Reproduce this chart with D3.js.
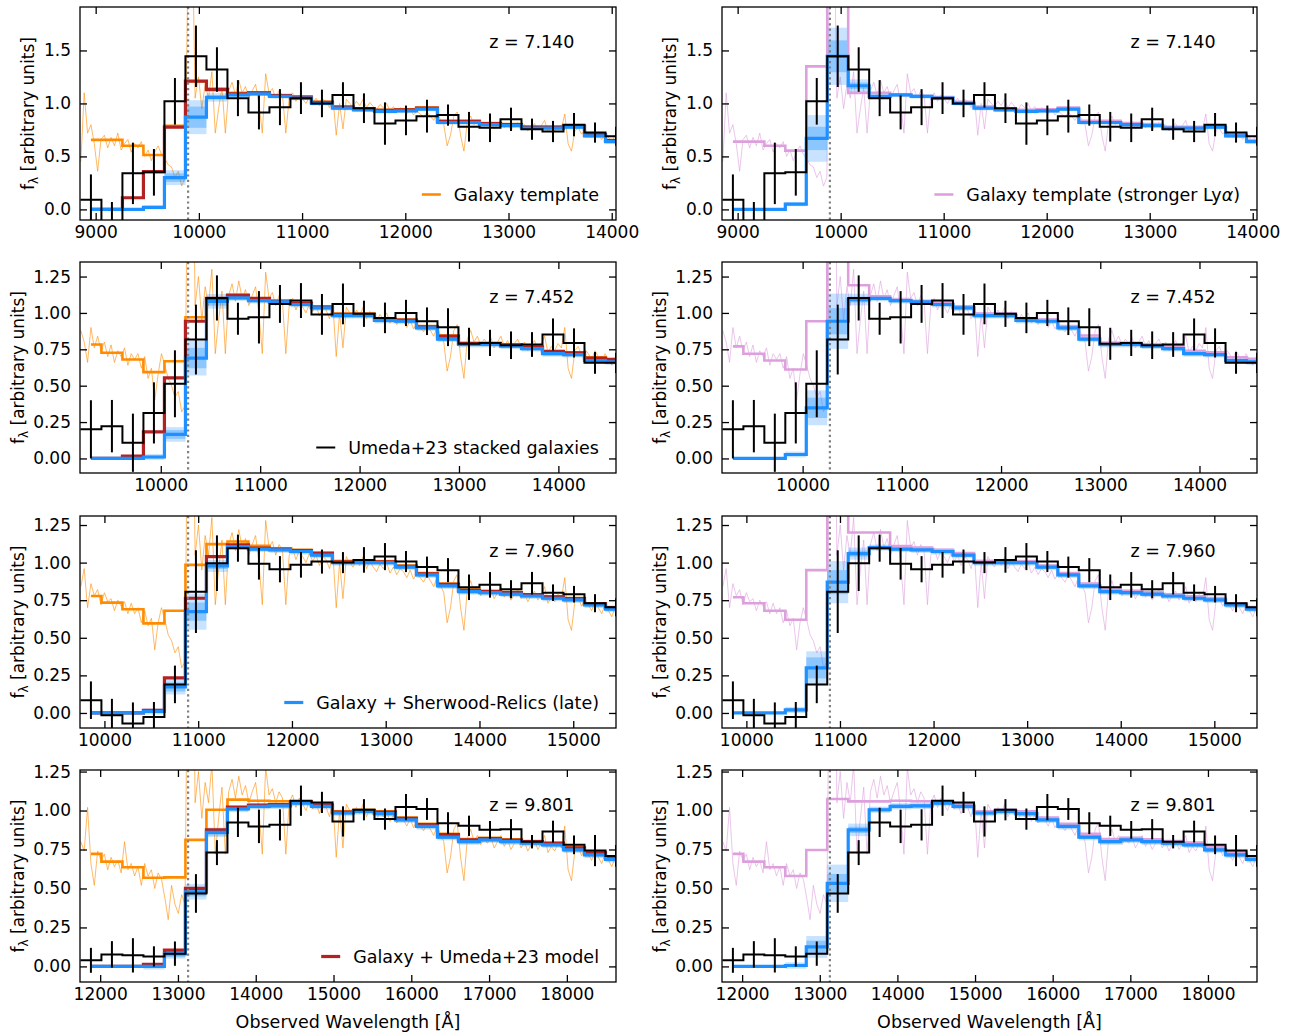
<!DOCTYPE html>
<html>
<head>
<meta charset="utf-8">
<script src="https://cdn.jsdelivr.net/npm/d3@7"></script>
<style>
  body { margin: 0; background: #fff; }
  text { font-family: "DejaVu Sans", sans-serif; }
</style>
</head>
<body>
<svg id="fig" width="1292" height="1036"></svg>
<script>
// ---------- data ----------
const redshifts = [7.140, 7.452, 7.960, 9.801];
const lyaRest = 1215.67;
const restLimits = [1087, 1725];          // rest-frame window shown in every panel
const binWidthRest = 25;
const binCentersRest = [1100, 1125, 1150, 1175, 1200, 1225, 1250, 1275, 1300, 1325, 1350, 1375, 1400,
  1425, 1450, 1475, 1500, 1525, 1550, 1575, 1600, 1625, 1650, 1675, 1700, 1725];

const yLimits = [[-0.1, 1.91], [-0.1, 1.35], [-0.1, 1.31], [-0.1, 1.26]];
const xTicks = [
  [9000, 10000, 11000, 12000, 13000, 14000],
  [10000, 11000, 12000, 13000, 14000],
  [10000, 11000, 12000, 13000, 14000, 15000],
  [12000, 13000, 14000, 15000, 16000, 17000, 18000]
];
const yTicks = [
  [0, 0.5, 1.0, 1.5],
  [0, 0.25, 0.5, 0.75, 1.0, 1.25],
  [0, 0.25, 0.5, 0.75, 1.0, 1.25],
  [0, 0.25, 0.5, 0.75, 1.0, 1.25]
];

// Umeda+23 stacked spectra (binned) and 1-sigma errors
const stackFlux = [
  [0.09, -0.17, 0.34, 0.35, 1.02, 1.445, 1.32, 1.05, 0.915, 0.965, 1.05, 1.0, 1.08, 0.955, 0.81, 0.84, 0.88, 0.89, 0.78, 0.77, 0.85, 0.757, 0.735, 0.80, 0.725, 0.69],
  [0.2, 0.222, 0.108, 0.313, 0.513, 0.817, 1.103, 0.96, 0.97, 1.062, 1.085, 0.99, 1.062, 0.994, 0.966, 1.0, 0.943, 0.902, 0.788, 0.794, 0.778, 0.783, 0.852, 0.794, 0.657, 0.657],
  [0.085, -0.016, -0.07, -0.027, 0.19, 0.807, 0.996, 1.096, 0.992, 0.956, 0.985, 1.007, 1.0, 1.018, 1.04, 1.007, 0.97, 0.95, 0.836, 0.852, 0.823, 0.863, 0.8, 0.79, 0.73, 0.703],
  [0.039, 0.077, 0.071, 0.064, 0.082, 0.468, 0.73, 0.924, 0.898, 0.908, 1.063, 1.052, 0.93, 1.005, 0.945, 1.022, 1.01, 0.919, 0.902, 0.876, 0.88, 0.8, 0.865, 0.78, 0.743, 0.709]
];
const stackErr = [
  [0.24, 0.24, 0.29, 0.22, 0.22, 0.29, 0.21, 0.17, 0.16, 0.17, 0.15, 0.13, 0.12, 0.14, 0.2, 0.14, 0.155, 0.1, 0.14, 0.135, 0.11, 0.1, 0.1, 0.11, 0.095, 0.09],
  [0.2, 0.18, 0.2, 0.21, 0.23, 0.24, 0.155, 0.11, 0.18, 0.13, 0.12, 0.14, 0.14, 0.09, 0.105, 0.09, 0.095, 0.13, 0.11, 0.09, 0.095, 0.085, 0.11, 0.1, 0.075, 0.07],
  [0.125, 0.11, 0.14, 0.1, 0.125, 0.275, 0.185, 0.09, 0.105, 0.087, 0.085, 0.08, 0.07, 0.085, 0.09, 0.07, 0.07, 0.08, 0.085, 0.085, 0.06, 0.075, 0.055, 0.055, 0.06, 0.06],
  [0.08, 0.085, 0.11, 0.065, 0.078, 0.124, 0.08, 0.094, 0.107, 0.1, 0.097, 0.068, 0.097, 0.068, 0.068, 0.084, 0.07, 0.07, 0.065, 0.057, 0.065, 0.043, 0.07, 0.06, 0.1, 0.07]
];

// Galaxy template, binned (orange) and with stronger Ly-alpha (pink)
const templateBinned = [
  [0.656, 0.656, 0.6, 0.514, 0.79, 1.21, 1.14, 1.1, 1.105, 1.08, 1.065, 1.015, 0.97, 0.955, 0.94, 0.945, 0.96, 0.835, 0.835, 0.815, 0.805, 0.78, 0.78, 0.79, 0.708, 0.655],
  [0.783, 0.726, 0.68, 0.593, 0.668, 0.97, 1.1, 1.126, 1.1, 1.085, 1.07, 1.045, 0.995, 0.995, 0.96, 0.955, 0.91, 0.845, 0.795, 0.795, 0.785, 0.77, 0.74, 0.73, 0.695, 0.685],
  [0.778, 0.734, 0.69, 0.596, 0.68, 0.985, 1.123, 1.14, 1.112, 1.096, 1.085, 1.063, 1.01, 1.01, 1.008, 0.98, 0.93, 0.86, 0.82, 0.812, 0.805, 0.79, 0.776, 0.764, 0.73, 0.704],
  [0.722, 0.672, 0.636, 0.569, 0.571, 0.812, 1.005, 1.07, 1.063, 1.06, 1.06, 1.04, 0.995, 1.005, 0.995, 0.955, 0.915, 0.85, 0.817, 0.825, 0.815, 0.805, 0.795, 0.765, 0.733, 0.705]
];
const strongLyaBinned = [
  [0.64, 0.64, 0.6, 0.555, 1.35, 2.5, 1.1, 1.1, 1.08, 1.07, 1.06, 1.015, 0.97, 0.955, 0.94, 0.945, 0.96, 0.835, 0.835, 0.815, 0.805, 0.78, 0.78, 0.79, 0.708, 0.655],
  [0.77, 0.72, 0.673, 0.611, 0.943, 1.9, 1.19, 1.115, 1.09, 1.08, 1.07, 1.045, 0.995, 0.995, 0.96, 0.955, 0.91, 0.845, 0.795, 0.795, 0.785, 0.77, 0.74, 0.73, 0.695, 0.685],
  [0.77, 0.73, 0.68, 0.62, 0.95, 1.8, 1.2, 1.2, 1.11, 1.1, 1.085, 1.063, 1.01, 1.01, 1.008, 0.98, 0.93, 0.86, 0.82, 0.812, 0.805, 0.79, 0.776, 0.764, 0.73, 0.704],
  [0.722, 0.672, 0.636, 0.58, 0.747, 1.074, 1.059, 1.059, 1.063, 1.06, 1.06, 1.04, 0.995, 1.005, 0.995, 0.955, 0.915, 0.85, 0.817, 0.825, 0.815, 0.805, 0.795, 0.765, 0.733, 0.705]
];

// Galaxy + Umeda+23 damping-wing model
const umedaModel = [
  [0, 0, 0.11, 0.356, 0.776, 1.21, 1.13, 1.09, 1.1, 1.075, 1.06, 1.01, 0.965, 0.95, 0.935, 0.94, 0.955, 0.83, 0.83, 0.81, 0.8, 0.777, 0.777, 0.786, 0.704, 0.65],
  [0, 0, 0.016, 0.183, 0.554, 0.943, 1.1, 1.12, 1.1, 1.08, 1.065, 1.04, 0.99, 0.99, 0.955, 0.95, 0.905, 0.84, 0.79, 0.79, 0.78, 0.765, 0.735, 0.725, 0.69, 0.68],
  [0, 0, 0, 0.018, 0.233, 0.763, 1.04, 1.118, 1.096, 1.09, 1.08, 1.063, 1.005, 1.005, 1.005, 0.975, 0.925, 0.855, 0.815, 0.808, 0.8, 0.787, 0.772, 0.76, 0.726, 0.7],
  [0, 0, 0, 0.013, 0.105, 0.5, 0.876, 1.022, 1.035, 1.038, 1.055, 1.035, 0.99, 1.0, 0.99, 0.95, 0.91, 0.845, 0.812, 0.82, 0.81, 0.8, 0.79, 0.76, 0.728, 0.7]
];

// Galaxy + Sherwood-Relics (late): median and 68/95 per cent half-widths
const sherwoodGalaxy = [
  [0, 0, 0, 0.02, 0.30, 0.87, 1.057, 1.08, 1.09, 1.066, 1.05, 1.0, 0.955, 0.94, 0.925, 0.93, 0.946, 0.82, 0.82, 0.80, 0.79, 0.767, 0.767, 0.776, 0.694, 0.64],
  [0, 0, 0, 0.01, 0.165, 0.69, 1.08, 1.103, 1.085, 1.076, 1.058, 1.035, 0.982, 0.982, 0.948, 0.943, 0.897, 0.82, 0.783, 0.783, 0.772, 0.755, 0.72, 0.714, 0.673, 0.664],
  [0, 0, 0, 0.01, 0.173, 0.674, 0.978, 1.107, 1.09, 1.085, 1.074, 1.05, 1.0, 1.0, 1.0, 0.97, 0.918, 0.845, 0.807, 0.8, 0.79, 0.778, 0.763, 0.752, 0.718, 0.69],
  [0, 0, 0, 0, 0.08, 0.479, 0.86, 1.01, 1.027, 1.03, 1.048, 1.027, 0.984, 0.994, 0.98, 0.94, 0.898, 0.829, 0.8, 0.812, 0.8, 0.79, 0.78, 0.747, 0.715, 0.687]
];
const sherwoodGalaxyInner = [
  [0, 0, 0, 0.01, 0.04, 0.10, 0.02, 0.012, 0.012, 0.012, 0.012, 0.012, 0.012, 0.012, 0.012, 0.012, 0.012, 0.012, 0.012, 0.012, 0.012, 0.012, 0.012, 0.012, 0.012, 0.012],
  [0, 0, 0, 0.01, 0.03, 0.07, 0.03, 0.012, 0.012, 0.012, 0.012, 0.012, 0.012, 0.012, 0.012, 0.012, 0.012, 0.012, 0.012, 0.012, 0.012, 0.012, 0.012, 0.012, 0.012, 0.012],
  [0, 0, 0, 0.01, 0.03, 0.06, 0.02, 0.012, 0.012, 0.012, 0.012, 0.012, 0.012, 0.012, 0.012, 0.012, 0.012, 0.012, 0.012, 0.012, 0.012, 0.012, 0.012, 0.012, 0.012, 0.012],
  [0, 0, 0, 0.01, 0.02, 0.03, 0.02, 0.012, 0.012, 0.012, 0.012, 0.012, 0.012, 0.012, 0.012, 0.012, 0.012, 0.012, 0.012, 0.012, 0.012, 0.012, 0.012, 0.012, 0.012, 0.012]
];
const sherwoodGalaxyOuter = [
  [0, 0, 0, 0.02, 0.07, 0.16, 0.04, 0.02, 0.02, 0.02, 0.02, 0.02, 0.02, 0.02, 0.02, 0.02, 0.02, 0.02, 0.02, 0.02, 0.02, 0.02, 0.02, 0.02, 0.02, 0.02],
  [0, 0, 0, 0.02, 0.05, 0.12, 0.05, 0.02, 0.02, 0.02, 0.02, 0.02, 0.02, 0.02, 0.02, 0.02, 0.02, 0.02, 0.02, 0.02, 0.02, 0.02, 0.02, 0.02, 0.02, 0.02],
  [0, 0, 0, 0.02, 0.05, 0.12, 0.04, 0.02, 0.02, 0.02, 0.02, 0.02, 0.02, 0.02, 0.02, 0.02, 0.02, 0.02, 0.02, 0.02, 0.02, 0.02, 0.02, 0.02, 0.02, 0.02],
  [0, 0, 0, 0.02, 0.03, 0.05, 0.03, 0.02, 0.02, 0.02, 0.02, 0.02, 0.02, 0.02, 0.02, 0.02, 0.02, 0.02, 0.02, 0.02, 0.02, 0.02, 0.02, 0.02, 0.02, 0.02]
];

// Strong-Ly-alpha galaxy + Sherwood-Relics (late)
const sherwoodStrongLya = [
  [0, 0, 0, 0.05, 0.67, 1.445, 1.167, 1.066, 1.08, 1.066, 1.05, 1.0, 0.955, 0.94, 0.925, 0.93, 0.946, 0.82, 0.82, 0.80, 0.79, 0.767, 0.767, 0.776, 0.694, 0.64],
  [0, 0, 0, 0.027, 0.348, 0.943, 1.092, 1.1, 1.085, 1.076, 1.058, 1.035, 0.982, 0.982, 0.948, 0.943, 0.897, 0.82, 0.783, 0.783, 0.772, 0.755, 0.72, 0.714, 0.673, 0.664],
  [0, 0, 0, 0.02, 0.3, 0.87, 1.06, 1.1, 1.09, 1.085, 1.074, 1.05, 1.0, 1.0, 1.0, 0.97, 0.918, 0.845, 0.807, 0.8, 0.79, 0.778, 0.763, 0.752, 0.718, 0.69],
  [0, 0, 0, 0.006, 0.125, 0.533, 0.876, 1.005, 1.027, 1.03, 1.048, 1.027, 0.984, 0.994, 0.98, 0.94, 0.898, 0.829, 0.8, 0.812, 0.8, 0.79, 0.78, 0.747, 0.715, 0.687]
];
const sherwoodStrongLyaInner = [
  [0, 0, 0, 0.01, 0.11, 0.15, 0.03, 0.012, 0.012, 0.012, 0.012, 0.012, 0.012, 0.012, 0.012, 0.012, 0.012, 0.012, 0.012, 0.012, 0.012, 0.012, 0.012, 0.012, 0.012, 0.012],
  [0, 0, 0, 0.01, 0.07, 0.09, 0.02, 0.012, 0.012, 0.012, 0.012, 0.012, 0.012, 0.012, 0.012, 0.012, 0.012, 0.012, 0.012, 0.012, 0.012, 0.012, 0.012, 0.012, 0.012, 0.012],
  [0, 0, 0, 0.01, 0.07, 0.08, 0.02, 0.012, 0.012, 0.012, 0.012, 0.012, 0.012, 0.012, 0.012, 0.012, 0.012, 0.012, 0.012, 0.012, 0.012, 0.012, 0.012, 0.012, 0.012, 0.012],
  [0, 0, 0, 0.01, 0.04, 0.06, 0.02, 0.012, 0.012, 0.012, 0.012, 0.012, 0.012, 0.012, 0.012, 0.012, 0.012, 0.012, 0.012, 0.012, 0.012, 0.012, 0.012, 0.012, 0.012, 0.012]
];
const sherwoodStrongLyaOuter = [
  [0, 0, 0, 0.02, 0.22, 0.27, 0.06, 0.02, 0.02, 0.02, 0.02, 0.02, 0.02, 0.02, 0.02, 0.02, 0.02, 0.02, 0.02, 0.02, 0.02, 0.02, 0.02, 0.02, 0.02, 0.02],
  [0, 0, 0, 0.02, 0.12, 0.19, 0.04, 0.02, 0.02, 0.02, 0.02, 0.02, 0.02, 0.02, 0.02, 0.02, 0.02, 0.02, 0.02, 0.02, 0.02, 0.02, 0.02, 0.02, 0.02, 0.02],
  [0, 0, 0, 0.02, 0.11, 0.14, 0.04, 0.02, 0.02, 0.02, 0.02, 0.02, 0.02, 0.02, 0.02, 0.02, 0.02, 0.02, 0.02, 0.02, 0.02, 0.02, 0.02, 0.02, 0.02, 0.02],
  [0, 0, 0, 0.02, 0.07, 0.12, 0.04, 0.02, 0.02, 0.02, 0.02, 0.02, 0.02, 0.02, 0.02, 0.02, 0.02, 0.02, 0.02, 0.02, 0.02, 0.02, 0.02, 0.02, 0.02, 0.02]
];

// Full-resolution galaxy template on a 4 A rest-frame grid.
// Blue side (1088-1212 A) differs by row; red side (1216-1724 A) is shared.
const templateGridStart = 1088;
const templateGridStep = 4;
const templateBlueSide = [
  [0.45, 1.10, 0.72, 0.80, 0.62, 0.36, 0.66, 0.70, 0.58, 0.68, 0.60, 0.72, 0.56, 0.62, 0.66, 0.54,
   0.62, 0.58, 0.64, 0.50, 0.56, 0.46, 0.54, 0.60, 0.52, 0.48, 0.42, 0.40, 0.30, 0.36, 0.22, 0.30],
  [0.88, 0.80, 0.66, 0.90, 0.76, 0.84, 0.74, 0.80, 0.70, 0.78, 0.66, 0.74, 0.70, 0.76, 0.64, 0.72,
   0.68, 0.72, 0.62, 0.70, 0.55, 0.62, 0.40, 0.58, 0.72, 0.64, 0.55, 0.50, 0.42, 0.46, 0.32, 0.36],
  [0.84, 0.96, 0.70, 0.86, 0.78, 0.82, 0.72, 0.80, 0.74, 0.76, 0.68, 0.75, 0.71, 0.74, 0.66, 0.73,
   0.66, 0.70, 0.60, 0.68, 0.58, 0.63, 0.42, 0.60, 0.70, 0.62, 0.52, 0.48, 0.40, 0.44, 0.30, 0.34],
  [0.80, 0.74, 1.02, 0.66, 0.52, 0.74, 0.68, 0.72, 0.62, 0.70, 0.64, 0.68, 0.60, 0.80, 0.62, 0.66,
   0.58, 0.64, 0.52, 0.66, 0.58, 0.62, 0.50, 0.60, 0.56, 0.44, 0.30, 0.52, 0.40, 0.34, 0.46, 0.40]
];
const templateRedSide = [
  2.6, 3.0, 1.05, 1.25, 0.95, 1.18, 1.05, 1.30, 0.72, 0.95,
  1.15, 0.72, 1.12, 1.20, 1.08, 1.22, 1.10, 1.16, 1.05, 1.12,
  1.18, 1.00, 0.72, 1.28, 1.10, 1.14, 1.05, 1.12, 1.08, 0.72,
  1.05, 1.10, 1.02, 1.08, 1.04, 1.00, 1.06, 1.01, 1.05, 0.98,
  1.04, 1.02, 0.96, 1.06, 0.70, 1.00, 0.76, 1.04, 1.00, 0.97,
  1.02, 0.98, 1.04, 0.96, 1.01, 0.97, 0.94, 0.99, 0.96, 1.00,
  0.93, 0.97, 0.92, 0.96, 0.94, 0.90, 0.95, 0.89, 0.93, 0.90,
  0.87, 0.92, 0.88, 0.84, 0.90, 0.85, 0.80, 0.60, 0.70, 0.88,
  0.92, 0.70, 0.55, 0.82, 0.88, 0.80, 0.84, 0.78, 0.82, 0.79,
  0.83, 0.76, 0.80, 0.84, 0.77, 0.81, 0.75, 0.79, 0.82, 0.76,
  0.80, 0.74, 0.78, 0.81, 0.75, 0.79, 0.84, 0.73, 0.77, 0.74,
  0.79, 0.76, 0.90, 0.62, 0.55, 0.74, 0.77, 0.71, 0.75, 0.72,
  0.68, 0.74, 0.70, 0.66, 0.72, 0.68, 0.64, 0.70
];

// ---------- styles ----------
const colors = {
  template: "#ff8c00",
  strongLya: "#dda0dd",
  umeda: "#b22222",
  sherwood: "#1e90ff",
  stack: "#000000",
  lya: "#808080"
};
const fontSize = 17;
const labelFontSize = 17.5;
const colX = [[80, 616], [722, 1257]];
const rowY = [[7, 220], [262, 473], [516, 728], [770, 982]];
const yLabelOffset = [52, 62, 62, 62];

const svg = d3.select("#fig");
svg.append("rect").attr("width", 1292).attr("height", 1036).attr("fill", "#fff");

function drawPanel(r, c) {
  const f = 1 + redshifts[r];
  const [x0, x1] = colX[c];
  const [y0, y1] = rowY[r];
  const x = d3.scaleLinear().domain(restLimits.map(v => v * f)).range([x0, x1]);
  const y = d3.scaleLinear().domain(yLimits[r]).range([y1, y0]);

  const clipId = `clip-${r}-${c}`;
  svg.append("clipPath").attr("id", clipId)
    .append("rect").attr("x", x0).attr("y", y0).attr("width", x1 - x0).attr("height", y1 - y0);
  const g = svg.append("g").attr("clip-path", `url(#${clipId})`);

  const lineColor = c === 0 ? colors.template : colors.strongLya;

  // full-resolution template
  const flux = templateBlueSide[r].concat(templateRedSide);
  const spec = flux.map((v, i) => [(templateGridStart + i * templateGridStep) * f, v]);
  g.append("path")
    .attr("d", d3.line().x(d => x(d[0])).y(d => y(d[1]))(spec))
    .attr("fill", "none").attr("stroke", lineColor)
    .attr("stroke-width", 1).attr("stroke-opacity", 0.6);

  // Sherwood-Relics credible bands
  const med = c === 0 ? sherwoodGalaxy[r] : sherwoodStrongLya[r];
  const inner = c === 0 ? sherwoodGalaxyInner[r] : sherwoodStrongLyaInner[r];
  const outer = c === 0 ? sherwoodGalaxyOuter[r] : sherwoodStrongLyaOuter[r];
  const half = binWidthRest / 2;
  [[outer, 0.25], [inner, 0.35]].forEach(([w, op]) => {
    g.append("g").selectAll("rect").data(binCentersRest).join("rect")
      .attr("x", (d, i) => x((i === 0 ? d : d - half) * f))
      .attr("width", (d, i) => x((d + half) * f) - x((i === 0 ? d : d - half) * f))
      .attr("y", (d, i) => y(med[i] + w[i]))
      .attr("height", (d, i) => y(med[i] - w[i]) - y(med[i] + w[i]))
      .attr("fill", colors.sherwood).attr("fill-opacity", op);
  });

  const stepLine = d3.line().curve(d3.curveStep).x(d => x(d[0] * f)).y(d => y(d[1]));
  const binned = c === 0 ? templateBinned[r] : strongLyaBinned[r];
  g.append("path")
    .attr("d", stepLine(binCentersRest.map((b, i) => [b, binned[i]])))
    .attr("fill", "none").attr("stroke", lineColor).attr("stroke-width", 2.6);

  if (c === 0) {
    g.append("path")
      .attr("d", stepLine(binCentersRest.map((b, i) => [b, umedaModel[r][i]])))
      .attr("fill", "none").attr("stroke", colors.umeda).attr("stroke-width", 3.2);
  }
  g.append("path")
    .attr("d", stepLine(binCentersRest.map((b, i) => [b, med[i]])))
    .attr("fill", "none").attr("stroke", colors.sherwood).attr("stroke-width", 3.2);

  // Ly-alpha marker
  g.append("line")
    .attr("x1", x(lyaRest * f)).attr("x2", x(lyaRest * f))
    .attr("y1", y0).attr("y2", y1)
    .attr("stroke", colors.lya).attr("stroke-width", 2.2).attr("stroke-dasharray", "2.2,3.2");

  // stacked spectrum as stairs + error bars
  const stairs = [];
  binCentersRest.forEach((b, i) => {
    stairs.push([b - half, stackFlux[r][i]]);
    stairs.push([b + half, stackFlux[r][i]]);
  });
  g.append("path")
    .attr("d", d3.line().x(d => x(d[0] * f)).y(d => y(d[1]))(stairs))
    .attr("fill", "none").attr("stroke", colors.stack).attr("stroke-width", 2);
  g.append("g").selectAll("line").data(binCentersRest).join("line")
    .attr("x1", d => x(d * f)).attr("x2", d => x(d * f))
    .attr("y1", (d, i) => y(stackFlux[r][i] - stackErr[r][i]))
    .attr("y2", (d, i) => y(stackFlux[r][i] + stackErr[r][i]))
    .attr("stroke", colors.stack).attr("stroke-width", 2);

  // axes: inward ticks on all four sides
  const styleAxis = sel => {
    sel.select(".domain").remove();
    sel.attr("font-size", fontSize).attr("font-family", "DejaVu Sans, sans-serif");
    sel.selectAll(".tick line").attr("stroke", "#000").attr("stroke-width", 1.3);
    sel.selectAll(".tick text").attr("fill", "#000");
  };
  const fmtY = r === 0 ? d3.format(".1f") : d3.format(".2f");
  svg.append("g").attr("transform", `translate(0,${y1})`)
    .call(d3.axisBottom(x).tickValues(xTicks[r]).tickFormat(d3.format("d"))
      .tickSizeInner(-7).tickSizeOuter(0).tickPadding(6)).call(styleAxis);
  svg.append("g").attr("transform", `translate(0,${y0})`)
    .call(d3.axisTop(x).tickValues(xTicks[r]).tickFormat("")
      .tickSizeInner(-7).tickSizeOuter(0)).call(styleAxis);
  svg.append("g").attr("transform", `translate(${x0},0)`)
    .call(d3.axisLeft(y).tickValues(yTicks[r]).tickFormat(fmtY)
      .tickSizeInner(-7).tickSizeOuter(0).tickPadding(9)).call(styleAxis);
  svg.append("g").attr("transform", `translate(${x1},0)`)
    .call(d3.axisRight(y).tickValues(yTicks[r]).tickFormat("")
      .tickSizeInner(-7).tickSizeOuter(0)).call(styleAxis);

  svg.append("rect").attr("x", x0).attr("y", y0)
    .attr("width", x1 - x0).attr("height", y1 - y0)
    .attr("fill", "none").attr("stroke", "#000").attr("stroke-width", 1.3);

  // redshift label
  svg.append("text")
    .attr("x", x0 + 0.843 * (x1 - x0)).attr("y", y0 + 34.5).attr("dy", "0.35em")
    .attr("text-anchor", "middle").attr("font-size", labelFontSize)
    .text(`z = ${redshifts[r].toFixed(3)}`);

  // y label
  const yl = svg.append("text")
    .attr("transform", `translate(${x0 - yLabelOffset[r]},${(y0 + y1) / 2}) rotate(-90)`)
    .attr("text-anchor", "middle").attr("dy", "0.35em").attr("font-size", fontSize);
  yl.append("tspan").text("f");
  yl.append("tspan").attr("font-size", 12).attr("dy", 4).text("λ");
  yl.append("tspan").attr("dy", -4).text(" [arbitrary units]");

  if (r === 3) {
    svg.append("text")
      .attr("x", (x0 + x1) / 2).attr("y", 1022).attr("dy", "0.35em")
      .attr("text-anchor", "middle").attr("font-size", labelFontSize)
      .text("Observed Wavelength [Å]");
  }
}

for (let r = 0; r < 4; r++) for (let c = 0; c < 2; c++) drawPanel(r, c);

// legends (one entry each)
const legends = [
  { r: 0, c: 0, color: colors.template, width: 2.6, parts: [["Galaxy template", false]] },
  { r: 0, c: 1, color: colors.strongLya, width: 2.6, parts: [["Galaxy template (stronger Ly", false], ["α", true], [")", false]] },
  { r: 1, c: 0, color: colors.stack, width: 2, parts: [["Umeda+23 stacked galaxies", false]] },
  { r: 2, c: 0, color: colors.sherwood, width: 3.2, parts: [["Galaxy + Sherwood-Relics (late)", false]] },
  { r: 3, c: 0, color: colors.umeda, width: 3.2, parts: [["Galaxy + Umeda+23 model", false]] }
];
legends.forEach(L => {
  const xr = colX[L.c][1] - 17;
  const yc = rowY[L.r][1] - 25.5;
  const t = svg.append("text").attr("x", xr).attr("y", yc).attr("dy", "0.35em")
    .attr("text-anchor", "end").attr("font-size", labelFontSize);
  L.parts.forEach(([s, it]) => t.append("tspan").attr("font-style", it ? "italic" : "normal").text(s));
  const w = t.node().getComputedTextLength();
  const xs = xr - w;
  svg.append("line").attr("x1", xs - 32).attr("x2", xs - 13).attr("y1", yc).attr("y2", yc)
    .attr("stroke", L.color).attr("stroke-width", L.width);
});
</script>
</body>
</html>
